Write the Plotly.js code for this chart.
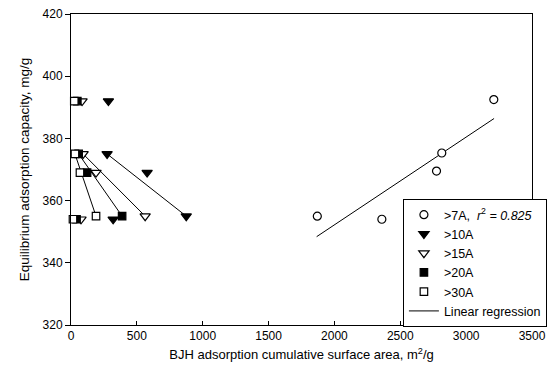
<!DOCTYPE html>
<html>
<head>
<meta charset="utf-8">
<script src="https://cdn.plot.ly/plotly-3.0.1.min.js"></script>
<style>html,body{margin:0;padding:0;background:#fff;}#chart{width:560px;height:380px;}</style>
</head>
<body>
<div id="chart"></div>
<script>
// ---- data ----
const seriesNames = ["&gt;7A,  <i>r</i><sup>2</sup><i> = 0.825</i>", "&gt;10A", "&gt;15A", "&gt;20A", "&gt;30A"];
const x7  = [1870, 2360, 2775, 2815, 3210];
const y7  = [355, 354, 369.5, 375.3, 392.5];
const x10 = [284, 274, 578, 875, 320];
const y10 = [392, 375, 369, 355, 354];
const x15 = [84, 92, 190, 563, 76];
const y15 = [392, 375, 369, 355, 354];
const x20 = [48, 58, 122, 388, 42];
const y20 = [392, 375, 369, 355, 354];
const x30 = [25, 30, 68, 190, 15];
const y30 = [392, 375, 369, 355, 354];
const regX = [1865, 3212];
const regY = [348.4, 386.4];
const xTicks = [0, 500, 1000, 1500, 2000, 2500, 3000, 3500];
const yTicks = [320, 340, 360, 380, 400, 420];

function seg(xs, ys, yFrom, yTo) {
  const a = ys.indexOf(yFrom), b = ys.indexOf(yTo);
  return {x: [xs[a], xs[b]], y: [ys[a], ys[b]]};
}

const black = "#000";
const traces = [];
// connecting lines (375 -> 355) for each pore-size series
[[x10, y10], [x15, y15], [x20, y20], [x30, y30]].forEach(([xs, ys]) => {
  const s = seg(xs, ys, 375, 355);
  traces.push({x: s.x, y: s.y, mode: "lines", line: {color: black, width: 1}, showlegend: false, hoverinfo: "skip", cliponaxis: false});
});
traces.push({x: regX, y: regY, mode: "lines", name: "Linear regression", line: {color: black, width: 1}, legendrank: 6});

const mk = (sym, fill, size) => ({symbol: sym, size: size, color: fill, line: {color: black, width: 1.2}});
traces.push({x: x7,  y: y7,  mode: "markers", name: seriesNames[0], marker: mk("circle", "#fff", 8), cliponaxis: false, legendrank: 1});
traces.push({x: x10, y: y10, mode: "markers", name: seriesNames[1], marker: mk("triangle-down", black, 9), cliponaxis: false, legendrank: 2});
traces.push({x: x15, y: y15, mode: "markers", name: seriesNames[2], marker: mk("triangle-down", "#fff", 9), cliponaxis: false, legendrank: 3});
traces.push({x: x20, y: y20, mode: "markers", name: seriesNames[3], marker: mk("square", black, 7.5), cliponaxis: false, legendrank: 4});
traces.push({x: x30, y: y30, mode: "markers", name: seriesNames[4], marker: mk("square", "#fff", 7.5), cliponaxis: false, legendrank: 5});

const font = {family: "Liberation Sans, Arial, sans-serif", color: black, size: 12};
const layout = {
  width: 560, height: 380,
  margin: {l: 71, r: 28, t: 14, b: 55},
  paper_bgcolor: "#fff", plot_bgcolor: "#fff",
  font: font,
  showlegend: true,
  legend: {
    x: 0.72, y: 0.405, xanchor: "left", yanchor: "top",
    bgcolor: "#fff", bordercolor: black, borderwidth: 1,
    font: {family: font.family, size: 12.5, color: black},
    tracegroupgap: 0
  },
  xaxis: {
    range: [0, 3500], tickvals: xTicks, ticks: "inside", ticklen: 4, tickcolor: black,
    showline: true, linecolor: black, linewidth: 1, mirror: true, showgrid: false, zeroline: false,
    tickfont: {size: 12},
    title: {text: "BJH adsorption cumulative surface area, m<sup>2</sup>/g", font: {size: 13}, standoff: 7}
  },
  yaxis: {
    range: [320, 420], tickvals: yTicks, ticks: "outside", ticklen: 5, tickcolor: black,
    showline: true, linecolor: black, linewidth: 1, mirror: true, showgrid: false, zeroline: false,
    tickfont: {size: 12},
    title: {text: "Equilibrium adsorption capacity, mg/g", font: {size: 13.5}, standoff: 9}
  }
};
Plotly.newPlot("chart", traces, layout, {displayModeBar: false, staticPlot: true});
</script>
</body>
</html>
